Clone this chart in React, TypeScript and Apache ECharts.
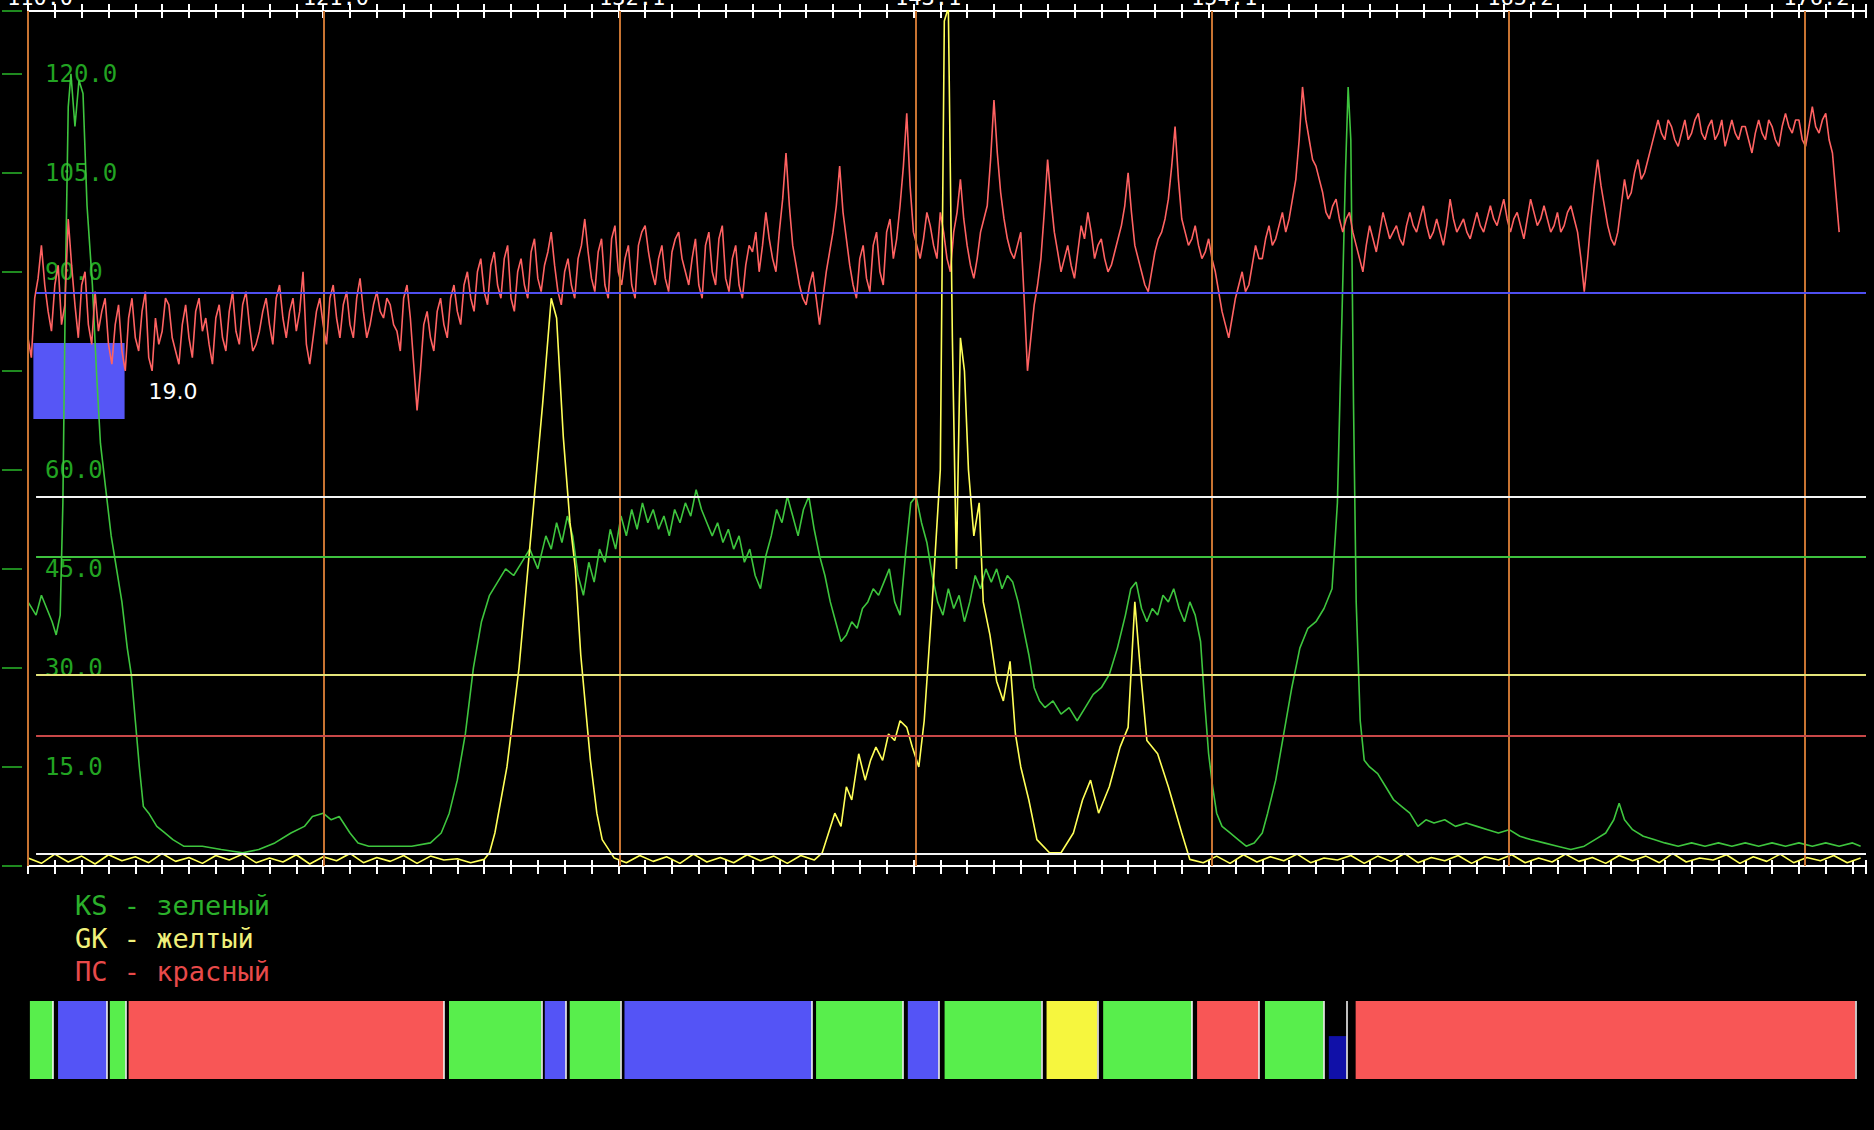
import React, { useEffect, useRef } from "react";
import * as echarts from "echarts";

// ---------- data ----------
const depthMin = 110;
const depthMax = 178.5;
const depthLabels = [110.0, 121.03, 132.07, 143.1, 154.13, 165.17, 176.2];

const yMax = 129.5;
const yInterval = 15;

// ПС (red) sampled every 0.125 m starting at 110.0
const redStart = 110;
const redStep = 0.125;
const redValues = [
  80, 77, 86, 89, 94, 88, 84, 81, 88, 91, 82, 85, 98, 91, 85, 80, 88, 90, 82, 79,
  87, 81, 84, 86, 79, 76, 82, 85, 78, 75, 83, 86, 80, 78, 84, 87, 77, 75, 83, 79,
  81, 86, 85, 80, 78, 76, 82, 85, 80, 77, 84, 86, 81, 83, 79, 76, 83, 85, 80, 78,
  84, 87, 81, 79, 85, 87, 82, 78, 79, 81, 84, 86, 82, 79, 86, 88, 83, 80, 84, 86,
  81, 84, 90, 79, 76, 80, 84, 86, 82, 79, 86, 88, 83, 80, 85, 87, 82, 80, 86, 89,
  84, 80, 82, 85, 87, 84, 83, 86, 85, 82, 81, 78, 86, 88, 83, 76, 69, 75, 82, 84,
  80, 78, 84, 86, 82, 80, 86, 88, 84, 82, 88, 90, 86, 84, 90, 92, 87, 85, 91, 93,
  88, 86, 92, 94, 86, 84, 90, 92, 88, 86, 93, 95, 89, 87, 91, 93, 96, 91, 87, 85,
  90, 92, 88, 86, 92, 94, 98, 93, 89, 87, 93, 95, 88, 86, 95, 97, 90, 88, 92, 94,
  88, 86, 94, 96, 97, 93, 90, 88, 92, 94, 89, 87, 93, 95, 96, 92, 90, 88, 92, 95,
  88, 86, 94, 96, 90, 88, 95, 97, 89, 87, 92, 94, 88, 86, 91, 94, 93, 96, 90, 94,
  99, 95, 92, 90, 96, 101, 108, 100, 94, 91, 88, 86, 85, 88, 90, 86, 82, 86, 90, 93,
  96, 100, 106, 99, 95, 91, 88, 86, 92, 94, 89, 87, 94, 96, 90, 88, 96, 98, 92, 95,
  100, 106, 114, 103, 96, 94, 92, 95, 99, 97, 94, 92, 99, 96, 92, 90, 96, 99, 104, 98,
  94, 91, 89, 92, 96, 98, 100, 107, 116, 108, 102, 98, 95, 93, 92, 94, 96, 86, 75, 80,
  85, 88, 92, 99, 107, 101, 96, 93, 90, 92, 94, 91, 89, 93, 97, 95, 99, 96, 92, 94,
  95, 92, 90, 91, 93, 95, 97, 100, 105, 99, 94, 92, 90, 88, 87, 90, 93, 95, 96, 98,
  101, 106, 112, 104, 98, 96, 94, 95, 97, 94, 92, 93, 95, 92, 90, 87, 84, 82, 80, 83,
  86, 88, 90, 87, 88, 91, 94, 92, 92, 95, 97, 94, 95, 97, 99, 96, 98, 101, 104, 110,
  118, 113, 110, 107, 106, 104, 102, 99, 98, 100, 101, 98, 96, 98, 99, 96, 94, 92, 90, 94,
  97, 95, 93, 96, 99, 97, 95, 96, 97, 95, 94, 97, 99, 97, 96, 98, 100, 97, 95, 96,
  98, 96, 94, 97, 101, 98, 96, 97, 98, 96, 95, 97, 99, 97, 96, 98, 100, 98, 97, 99,
  101, 98, 96, 98, 99, 97, 95, 98, 101, 99, 97, 98, 100, 98, 96, 97, 99, 96, 97, 99,
  100, 98, 96, 92, 87, 92, 98, 103, 107, 103, 100, 97, 95, 94, 96, 100, 104, 101, 102, 105,
  107, 104, 105, 107, 109, 111, 113, 111, 110, 113, 112, 110, 109, 111, 113, 110, 111, 113, 114, 111,
  110, 112, 113, 110, 111, 113, 109, 111, 113, 111, 110, 112, 112, 110, 108, 111, 113, 111, 110, 113,
  112, 110, 109, 112, 114, 112, 111, 113, 113, 110, 109, 112, 115, 112, 111, 113, 114, 110, 108, 102,
  96,
];

// KS (green) [depth, value]
const greenPoints = [
  [110.0, 40], [110.3, 38], [110.5, 41], [110.7, 39], [110.9, 37], [111.05, 35], [111.2, 38],
  [111.3, 55], [111.4, 90], [111.5, 115], [111.6, 120], [111.75, 112], [111.9, 119], [112.05, 117],
  [112.2, 100], [112.4, 88], [112.55, 75], [112.7, 64], [112.9, 57], [113.1, 50], [113.3, 45],
  [113.5, 40], [113.7, 33], [113.85, 29], [114.0, 22], [114.15, 15], [114.3, 9], [114.5, 8],
  [114.8, 6], [115.1, 5], [115.4, 4], [115.8, 3], [116.5, 3], [117.2, 2.5], [118.0, 2],
  [118.6, 2.5], [119.2, 3.5], [119.8, 5], [120.3, 6], [120.6, 7.5], [121.0, 8], [121.3, 7],
  [121.6, 7.5], [122.0, 5], [122.3, 3.5], [122.7, 3], [123.5, 3], [124.3, 3], [125.0, 3.5],
  [125.4, 5], [125.7, 8], [126.0, 13], [126.3, 20], [126.6, 30], [126.9, 37], [127.2, 41],
  [127.5, 43], [127.8, 45], [128.1, 44], [128.4, 46], [128.7, 48], [129.0, 45], [129.3, 50],
  [129.5, 48], [129.7, 52], [129.9, 49], [130.1, 53], [130.3, 50], [130.5, 44], [130.7, 41],
  [130.9, 46], [131.1, 43], [131.3, 48], [131.5, 46], [131.7, 51], [131.9, 48], [132.1, 53],
  [132.3, 50], [132.5, 54], [132.7, 51], [132.9, 55], [133.1, 52], [133.3, 54], [133.5, 51],
  [133.7, 53], [133.9, 50], [134.1, 54], [134.3, 52], [134.5, 55], [134.7, 53], [134.9, 57],
  [135.1, 54], [135.3, 52], [135.5, 50], [135.7, 52], [135.9, 49], [136.1, 51], [136.3, 48],
  [136.5, 50], [136.7, 46], [136.9, 48], [137.1, 44], [137.3, 42], [137.5, 47], [137.7, 50],
  [137.9, 54], [138.1, 52], [138.3, 56], [138.5, 53], [138.7, 50], [138.9, 54], [139.1, 56],
  [139.3, 51], [139.5, 47], [139.7, 44], [139.9, 40], [140.1, 37], [140.3, 34], [140.5, 35],
  [140.7, 37], [140.9, 36], [141.1, 39], [141.3, 40], [141.5, 42], [141.7, 41], [141.9, 43],
  [142.1, 45], [142.3, 40], [142.5, 38], [142.7, 47], [142.9, 55], [143.1, 56], [143.3, 52],
  [143.5, 49], [143.7, 44], [143.9, 40], [144.1, 38], [144.3, 42], [144.5, 39], [144.7, 41],
  [144.9, 37], [145.1, 40], [145.3, 44], [145.5, 42], [145.7, 45], [145.9, 43], [146.1, 45],
  [146.3, 42], [146.5, 44], [146.7, 43], [146.9, 40], [147.1, 36], [147.3, 32], [147.5, 27],
  [147.7, 25], [147.9, 24], [148.2, 25], [148.5, 23], [148.8, 24], [149.1, 22], [149.4, 24],
  [149.7, 26], [150.0, 27], [150.3, 29], [150.6, 33], [150.9, 38], [151.1, 42], [151.3, 43],
  [151.5, 39], [151.7, 37], [151.9, 39], [152.1, 38], [152.3, 41], [152.5, 40], [152.7, 42],
  [152.9, 39], [153.1, 37], [153.3, 40], [153.5, 38], [153.7, 34], [153.85, 25], [154.0, 17],
  [154.15, 12], [154.3, 8], [154.5, 6], [154.8, 5], [155.1, 4], [155.4, 3], [155.7, 3.5],
  [156.0, 5], [156.2, 8], [156.5, 13], [156.8, 20], [157.1, 27], [157.4, 33], [157.7, 36],
  [158.0, 37], [158.3, 39], [158.6, 42], [158.8, 55], [158.95, 80], [159.1, 105], [159.2, 118],
  [159.3, 110], [159.4, 70], [159.5, 40], [159.65, 22], [159.8, 16], [160.0, 15], [160.3, 14],
  [160.6, 12], [160.9, 10], [161.2, 9], [161.5, 8], [161.8, 6], [162.1, 7], [162.4, 6.5],
  [162.8, 7], [163.2, 6], [163.6, 6.5], [164.0, 6], [164.4, 5.5], [164.8, 5], [165.2, 5.5],
  [165.6, 4.5], [166.0, 4], [166.5, 3.5], [167.0, 3], [167.5, 2.5], [168.0, 3], [168.4, 4],
  [168.8, 5], [169.1, 7], [169.3, 9.5], [169.5, 7], [169.8, 5.5], [170.2, 4.5], [170.6, 4],
  [171.0, 3.5], [171.5, 3], [172.0, 3.5], [172.5, 3], [173.0, 3.5], [173.5, 3], [174.0, 3.5],
  [174.5, 3], [175.0, 3.5], [175.5, 3], [176.0, 3.5], [176.5, 3], [177.0, 3.5], [177.5, 3],
  [178.0, 3.5], [178.3, 3],
];

// GK (yellow) [depth, value]
const yellowPoints = [
  [110.0, 1.2], [110.5, 0.4], [111.0, 1.8], [111.5, 0.6], [112.0, 1.5], [112.5, 0.3], [113.0, 1.7],
  [113.5, 0.8], [114.0, 1.4], [114.5, 0.5], [115.0, 1.9], [115.5, 0.7], [116.0, 1.3], [116.5, 0.4],
  [117.0, 1.6], [117.5, 0.9], [118.0, 1.8], [118.5, 0.5], [119.0, 1.2], [119.5, 0.6], [120.0, 1.7],
  [120.5, 0.3], [121.0, 1.4], [121.5, 0.8], [122.0, 1.9], [122.5, 0.5], [123.0, 1.3], [123.5, 0.7],
  [124.0, 1.6], [124.5, 0.4], [125.0, 1.5], [125.5, 0.9], [126.0, 1.1], [126.5, 0.5], [127.0, 1.0],
  [127.2, 2], [127.4, 5], [127.85, 15], [128.3, 30], [128.74, 50], [129.18, 70], [129.5, 86],
  [129.7, 83], [129.95, 65], [130.2, 52], [130.4, 45], [130.6, 32], [130.96, 16], [131.2, 8],
  [131.4, 4], [131.85, 1.2], [132.3, 0.5], [132.8, 1.6], [133.3, 0.7], [133.8, 1.4], [134.3, 0.4],
  [134.8, 1.8], [135.3, 0.6], [135.8, 1.3], [136.3, 0.5], [136.8, 1.7], [137.3, 0.8], [137.8, 1.5],
  [138.3, 0.4], [138.8, 1.6], [139.3, 0.9], [139.6, 2], [140.07, 8], [140.3, 6], [140.5, 12],
  [140.7, 10], [140.96, 17], [141.2, 13], [141.4, 16], [141.6, 18], [141.85, 16], [142.07, 20],
  [142.3, 19], [142.5, 22], [142.75, 21], [142.96, 18], [143.2, 15], [143.4, 22], [143.7, 40],
  [144.0, 60], [144.15, 128], [144.3, 130], [144.45, 80], [144.6, 45], [144.75, 80], [144.9, 75],
  [145.05, 60], [145.25, 50], [145.45, 55], [145.6, 40], [145.85, 35], [146.1, 28], [146.35, 25],
  [146.6, 31], [146.8, 20], [147.0, 15], [147.3, 10], [147.6, 4], [148.07, 2], [148.5, 2],
  [148.96, 5], [149.3, 10], [149.6, 13], [149.9, 8], [150.3, 12], [150.7, 18], [151.0, 21],
  [151.25, 40], [151.45, 30], [151.7, 19], [152.1, 17], [152.5, 12], [153.0, 5], [153.3, 1],
  [153.8, 0.5], [154.3, 1.5], [154.8, 0.4], [155.3, 1.7], [155.8, 0.6], [156.3, 1.4], [156.8, 0.8],
  [157.3, 1.8], [157.8, 0.5], [158.3, 1.2], [158.8, 0.9], [159.3, 1.6], [159.8, 0.4], [160.3, 1.5],
  [160.8, 0.7], [161.3, 1.9], [161.8, 0.5], [162.3, 1.3], [162.8, 0.8], [163.3, 1.6], [163.8, 0.4],
  [164.3, 1.4], [164.8, 0.9], [165.3, 1.7], [165.8, 0.5], [166.3, 1.2], [166.8, 0.6], [167.3, 1.8],
  [167.8, 0.7], [168.3, 1.3], [168.8, 0.4], [169.3, 1.6], [169.8, 0.8], [170.3, 1.5], [170.8, 0.5],
  [171.3, 1.9], [171.8, 0.6], [172.3, 1.2], [172.8, 0.9], [173.3, 1.7], [173.8, 0.4], [174.3, 1.4],
  [174.8, 0.7], [175.3, 1.8], [175.8, 0.5], [176.3, 1.3], [176.8, 0.8], [177.3, 1.6], [177.8, 0.5],
  [178.3, 1.2],
];

// horizontal reference levels
const refLevels = [86.9, 55.9, 46.8, 28.9, 19.8, 1.9];
const refKinds = ["blue", "white", "green", "yellow", "red", "white"];
const refStartDepth = 110.3;

// blue box marker
const boxDepths = [110.2, 113.6];
const boxValues = [79.2, 67.7];
const boxLabel = "19.0";

// legend
const legendItems = ["KS - зеленый", "GK - желтый", "ПС - красный"];

// lithology strip
const segStart = [110.07, 111.12, 113.05, 113.75, 125.69, 129.26, 130.19, 132.23, 139.37, 142.79, 144.16, 147.96, 150.07, 153.57, 156.1, 158.48, 159.48];
const segEnd = [110.93, 112.94, 113.64, 125.5, 129.14, 130.04, 132.08, 139.22, 142.6, 143.94, 147.77, 149.85, 153.38, 155.87, 158.29, 159.14, 178.1];
const segKind = ["G", "B", "G", "R", "G", "B", "G", "B", "G", "B", "G", "Y", "G", "R", "G", "D", "R"];

// ---------- styles ----------
const MONO = '"DejaVu Sans Mono", "Liberation Mono", monospace';
const kindColor: Record<string, string> = {
  G: "#58ee4c",
  B: "#5454f6",
  R: "#f85656",
  Y: "#f6f63e",
  D: "#1010a8",
};
const refColor: Record<string, string> = {
  blue: "#4f4ff0",
  white: "#f4f4f4",
  green: "#3fc23f",
  yellow: "#e4e47a",
  red: "#c84848",
};
const legendColors = ["#2bb02b", "#f0f07a", "#e84a4a"];

function buildOption() {
  const redData = redValues.map((v, i) => [redStart + i * redStep, v]);
  const xBase = {
    type: "value",
    gridIndex: 0,
    min: depthMin,
    max: depthMax,
    interval: 1,
    splitLine: { show: false },
    axisLabel: { show: false },
  };
  return {
    animation: false,
    backgroundColor: "#000",
    grid: [
      { left: 28, right: 8, top: 11, bottom: 264 },
      { left: 28, right: 8, top: 1001, height: 78 },
    ],
    xAxis: [
      {
        ...xBase,
        position: "bottom",
        axisLine: { show: true, lineStyle: { color: "#fff", width: 2 } },
        axisTick: { show: true, inside: false, length: 8, lineStyle: { color: "#fff", width: 2 } },
      },
      {
        ...xBase,
        position: "bottom",
        axisLine: { show: false },
        axisTick: { show: true, inside: true, length: 6, lineStyle: { color: "#fff", width: 2 } },
      },
      {
        ...xBase,
        position: "top",
        axisLine: { show: true, lineStyle: { color: "#fff", width: 2 } },
        axisTick: { show: true, inside: false, length: 7, lineStyle: { color: "#fff", width: 2 } },
      },
      {
        ...xBase,
        position: "top",
        axisLine: { show: false },
        axisTick: { show: true, inside: true, length: 7, lineStyle: { color: "#fff", width: 2 } },
      },
      {
        type: "value",
        gridIndex: 1,
        min: depthMin,
        max: depthMax,
        show: false,
      },
    ],
    yAxis: [
      {
        type: "value",
        gridIndex: 0,
        position: "left",
        min: 0,
        max: yMax,
        interval: yInterval,
        splitLine: { show: false },
        axisLine: { show: true, lineStyle: { color: "#c87432", width: 2 } },
        axisTick: { show: false },
        axisLabel: {
          show: true,
          inside: true,
          margin: 17,
          showMaxLabel: false,
          color: "#22a322",
          fontSize: 24,
          fontFamily: MONO,
          formatter: (v: number) => (v === 0 || v % yInterval !== 0 ? "" : v.toFixed(1)),
        },
      },
      {
        type: "value",
        gridIndex: 0,
        position: "left",
        min: 0,
        max: yMax,
        interval: yInterval,
        offset: 6,
        splitLine: { show: false },
        axisLine: { show: false },
        axisTick: { show: true, length: 20, lineStyle: { color: "#1f8a1f", width: 2 } },
        axisLabel: { show: false },
      },
      { type: "value", gridIndex: 1, min: 0, max: 1, show: false },
    ],
    graphic: legendItems.map((t, i) => ({
      type: "text",
      left: 75,
      top: 892 + i * 33,
      style: { text: t, fill: legendColors[i], font: `27px ${MONO}` },
    })),
    series: [
      {
        name: "depthLines",
        type: "line",
        xAxisIndex: 0,
        yAxisIndex: 0,
        data: [],
        z: 1,
        markLine: {
          silent: true,
          symbol: ["none", "none"],
          lineStyle: { color: "#c87432", width: 2, type: "solid" },
          label: {
            show: true,
            position: "end",
            distance: 3,
            offset: [12, 0],
            color: "#fff",
            fontSize: 22,
            fontFamily: MONO,
            formatter: (p: any) => Number(p.value).toFixed(1),
          },
          data: depthLabels.map((d) => ({ xAxis: d })),
        },
      },
      {
        name: "levels",
        type: "line",
        xAxisIndex: 0,
        yAxisIndex: 0,
        data: [],
        z: 1,
        markLine: {
          silent: true,
          symbol: ["none", "none"],
          label: { show: false },
          data: refLevels.map((v, i) => [
            { coord: [refStartDepth, v], lineStyle: { color: refColor[refKinds[i]], width: 2, type: "solid" } },
            { coord: [depthMax, v] },
          ]),
        },
      },
      {
        name: "KS",
        type: "line",
        xAxisIndex: 0,
        yAxisIndex: 0,
        data: greenPoints,
        showSymbol: false,
        symbol: "none",
        z: 3,
        lineStyle: { color: "#3ec53e", width: 1.6 },
      },
      {
        name: "ПС",
        type: "line",
        xAxisIndex: 0,
        yAxisIndex: 0,
        data: redData,
        showSymbol: false,
        symbol: "none",
        z: 3,
        lineStyle: { color: "#ff6262", width: 1.6 },
      },
      {
        name: "GK",
        type: "line",
        xAxisIndex: 0,
        yAxisIndex: 0,
        data: yellowPoints,
        showSymbol: false,
        symbol: "none",
        z: 4,
        lineStyle: { color: "#ffff58", width: 1.6 },
      },
      {
        name: "box",
        type: "line",
        xAxisIndex: 0,
        yAxisIndex: 0,
        data: [],
        z: 5,
        markArea: {
          silent: true,
          label: {
            show: true,
            position: "right",
            distance: 24,
            offset: [0, 10],
            color: "#fff",
            fontSize: 22,
            fontFamily: '"DejaVu Sans", sans-serif',
            formatter: boxLabel,
          },
          data: [
            [
              { coord: [boxDepths[0], boxValues[0]], itemStyle: { color: "#5656f6", opacity: 1 } },
              { coord: [boxDepths[1], boxValues[1]] },
            ],
          ],
        },
      },
      {
        name: "strip",
        type: "line",
        xAxisIndex: 4,
        yAxisIndex: 2,
        data: [],
        markArea: {
          silent: true,
          label: { show: false },
          data: segStart.map((s, i) => [
            { coord: [s, 0], itemStyle: { color: kindColor[segKind[i]], opacity: 1 } },
            { coord: [segEnd[i], segKind[i] === "D" ? 0.55 : 1] },
          ]),
        },
        markLine: {
          silent: true,
          symbol: ["none", "none"],
          label: { show: false },
          lineStyle: { color: "#ffffff", width: 1.5, type: "solid" },
          data: segEnd.map((x) => ({ xAxis: x })),
        },
      },
    ],
  };
}

export default function App() {
  const ref = useRef<HTMLDivElement>(null);
  useEffect(() => {
    document.body.style.margin = "0";
    document.body.style.background = "#000";
    const chart = echarts.init(ref.current as HTMLDivElement, null, { renderer: "svg" });
    chart.setOption(buildOption() as any);
    return () => chart.dispose();
  }, []);
  return (
    <div
      ref={ref}
      style={{ position: "absolute", left: 0, top: 0, width: 1874, height: 1130, background: "#000" }}
    />
  );
}
